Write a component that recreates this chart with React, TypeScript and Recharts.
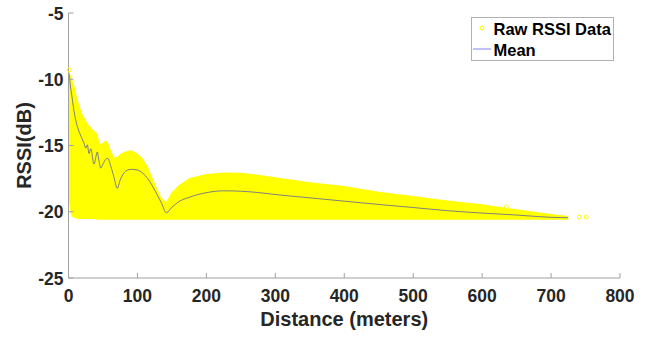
import {
  Area,
  ComposedChart,
  Legend,
  Line,
  Scatter,
  XAxis,
  YAxis,
} from "recharts";

// Distance samples (meters) and what the scatter cloud looks like there.
const distances = [
  0, 1, 3, 5, 8, 11, 15, 19, 23, 25, 27.3, 29.7, 32.2, 37, 41.8, 44, 46.7, 50,
  54, 57, 61, 66, 70.8, 75, 80, 86, 91, 100, 108, 115, 125, 135, 142, 150, 160,
  175, 200, 225, 250, 275, 300, 350, 400, 450, 500, 550, 600, 650, 700, 725,
];
const upperRssi = [
  -9.2, -9.25, -9.7, -10.0, -10.4, -11.1, -11.85, -12.5, -12.9, -13.1, -13.3,
  -13.5, -13.6, -13.9, -14.1, -14.6, -14.9, -14.8, -14.6, -14.75, -15.3, -15.9,
  -15.85, -15.65, -15.5, -15.4, -15.35, -15.6, -16.0, -16.6, -17.85, -18.98,
  -19.25, -18.5, -18.0, -17.48, -17.15, -17.03, -17.05, -17.2, -17.4, -17.78,
  -18.06, -18.49, -18.81, -19.15, -19.44, -19.82, -20.17, -20.32,
];
const lowerRssi = [
  -18.6, -19.3, -20.1, -20.35, -20.45, -20.5, -20.55, -20.55, -20.55, -20.55,
  -20.55, -20.55, -20.55, -20.55, -20.6, -20.6, -20.6, -20.6, -20.6, -20.6,
  -20.6, -20.6, -20.6, -20.6, -20.6, -20.6, -20.6, -20.6, -20.6, -20.6, -20.6,
  -20.6, -20.6, -20.6, -20.6, -20.6, -20.6, -20.6, -20.6, -20.6, -20.6, -20.6,
  -20.6, -20.6, -20.6, -20.6, -20.6, -20.6, -20.6, -20.6,
];
const meanRssi = [
  -9.5, -9.7, -10.6, -11.3, -12.4, -13.2, -13.9, -14.4, -14.9, -15.2, -14.95,
  -15.6, -15.25, -16.4, -15.5, -16.1, -16.7, -16.4, -16.05, -15.97, -16.5,
  -17.4, -18.23, -17.6, -17.1, -16.85, -16.8, -16.85, -17.1, -17.5, -18.36,
  -19.36, -20.07, -19.66, -19.24, -18.91, -18.56, -18.42, -18.45, -18.55, -18.7,
  -18.95, -19.2, -19.45, -19.68, -19.92, -20.1, -20.25, -20.42, -20.45,
];

// stray raw samples that sit outside the dense cloud
const strayDistances = [1, 635, 741, 751];
const strayRssi = [-9.3, -19.63, -20.4, -20.4];

const xTicks = [0, 100, 200, 300, 400, 500, 600, 700, 800];
const yTicks = [-25, -20, -15, -10, -5];

const YELLOW = "#ffff00";
const MEAN_BLUE = "#0000ff";
const AXIS_GREY = "#a0a0a0";
const TEXT_DARK = "#262626";
const FONT = "'Liberation Sans', Arial, Helvetica, sans-serif";

const rows = distances.map((x, i) => ({
  x,
  band: [lowerRssi[i], upperRssi[i]],
  mean: meanRssi[i],
}));
const strays = strayDistances.map((x, i) => ({ x, rssi: strayRssi[i] }));

const XTick = ({ x, y, payload }: any) => (
  <g>
    <line x1={x} x2={x} y1={y} y2={y - 5} stroke={AXIS_GREY} />
    <text
      x={x}
      y={y + 24}
      textAnchor="middle"
      fontFamily={FONT}
      fontWeight="bold"
      fontSize={17.5}
      fill={TEXT_DARK}
    >
      {payload.value}
    </text>
  </g>
);

const YTick = ({ x, y, payload }: any) => (
  <g>
    <line x1={x} x2={x + 5} y1={y} y2={y} stroke={AXIS_GREY} />
    <text
      x={x - 5}
      y={y + 6.5}
      textAnchor="end"
      fontFamily={FONT}
      fontWeight="bold"
      fontSize={17.5}
      fill={TEXT_DARK}
    >
      {payload.value}
    </text>
  </g>
);

const LegendBox = () => (
  <svg width={143} height={44} style={{ display: "block" }}>
    <rect x={0.5} y={0.5} width={142} height={43} fill="#fff" stroke="#b0b0b0" />
    <circle cx={11} cy={11} r={2} fill="none" stroke={YELLOW} />
    <text x={22.5} y={17.5} fontFamily={FONT} fontWeight="bold" fontSize={16.5} fill="#000">
      Raw RSSI Data
    </text>
    <line x1={2} x2={20} y1={32} y2={32} stroke={MEAN_BLUE} strokeWidth={0.5} />
    <text x={22.5} y={39} fontFamily={FONT} fontWeight="bold" fontSize={16.5} fill="#000">
      Mean
    </text>
  </svg>
);

export default function App() {
  return (
    <div style={{ position: "absolute", left: 0, top: 0 }}>
      <ComposedChart
        width={650}
        height={337}
        data={rows}
        margin={{ top: 13, right: 30, bottom: 0, left: 0 }}
      >
        <XAxis
          type="number"
          dataKey="x"
          domain={[0, 800]}
          ticks={xTicks}
          height={59}
          tickSize={0}
          tickMargin={0}
          tickLine={false}
          tick={<XTick />}
          axisLine={{ stroke: AXIS_GREY }}
          label={{
            content: ({ viewBox }: any) => (
              <text
                x={viewBox.x + viewBox.width / 2}
                y={viewBox.y + 48}
                textAnchor="middle"
                fontFamily={FONT}
                fontWeight="bold"
                fontSize={20}
                fill={TEXT_DARK}
              >
                Distance (meters)
              </text>
            ),
          }}
        />
        <YAxis
          type="number"
          domain={[-25, -5]}
          ticks={yTicks}
          width={68.5}
          tickSize={0}
          tickMargin={0}
          tickLine={false}
          tick={<YTick />}
          axisLine={{ stroke: AXIS_GREY }}
          label={{
            content: ({ viewBox }: any) => {
              const cx = viewBox.x + 24;
              const cy = viewBox.y + viewBox.height / 2;
              return (
                <text
                  x={cx}
                  y={cy}
                  transform={`rotate(-90 ${cx} ${cy})`}
                  textAnchor="middle"
                  dominantBaseline="central"
                  fontFamily={FONT}
                  fontWeight="bold"
                  fontSize={20}
                  fill={TEXT_DARK}
                >
                  RSSI(dB)
                </text>
              );
            },
          }}
        />
        <Legend
          layout="vertical"
          align="center"
          verticalAlign="middle"
          content={<LegendBox />}
          wrapperStyle={{ left: 471, top: 17, width: 143, height: 44 }}
        />
        <Area
          type="linear"
          dataKey="band"
          name="Raw RSSI Data"
          fill={YELLOW}
          fillOpacity={1}
          stroke="none"
          isAnimationActive={false}
        />
        <Scatter
          name="stray"
          data={strays}
          dataKey="rssi"
          fill="none"
          stroke={YELLOW}
          shape={(p: any) => (
            <circle cx={p.cx} cy={p.cy} r={2} fill="none" stroke={YELLOW} />
          )}
          legendType="none"
          isAnimationActive={false}
        />
        <Line
          type="monotone"
          dataKey="mean"
          name="Mean"
          stroke={MEAN_BLUE}
          strokeWidth={0.5}
          dot={false}
          isAnimationActive={false}
        />
      </ComposedChart>
    </div>
  );
}
